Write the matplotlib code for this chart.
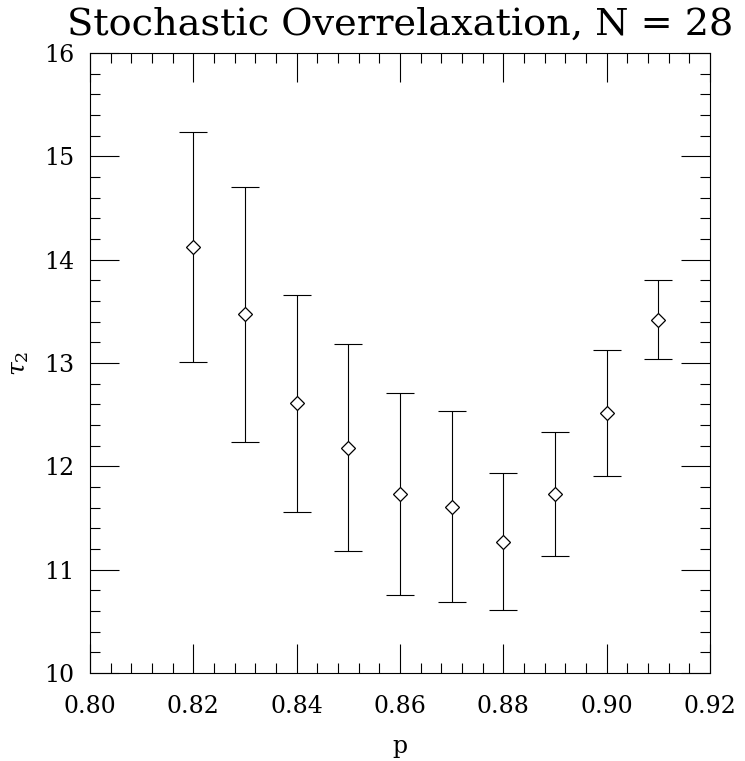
import numpy as np
import matplotlib.pyplot as plt
from matplotlib.ticker import MultipleLocator

# Autocorrelation time tau_2 versus overrelaxation parameter p
p = [0.82, 0.83, 0.84, 0.85, 0.86, 0.87, 0.88, 0.89, 0.90, 0.91]
tau2 = [14.12, 13.47, 12.61, 12.18, 11.73, 11.61, 11.27, 11.73, 12.52, 13.42]
tau2_err = [1.115, 1.23, 1.05, 1.00, 0.975, 0.925, 0.665, 0.60, 0.61, 0.385]
xticks = [0.80, 0.82, 0.84, 0.86, 0.88, 0.90, 0.92]

plt.rcParams['font.family'] = 'DejaVu Serif'
plt.rcParams['mathtext.fontset'] = 'dejavuserif'

fig = plt.figure(figsize=(7.45, 7.61), dpi=100)
ax = fig.add_axes([90 / 745, 1 - 673 / 761, 620 / 745, 620 / 761])

# error bars first, then open diamonds on top
ax.errorbar(p, tau2, yerr=tau2_err, fmt='none', ecolor='black',
            elinewidth=0.8, capsize=10.3, capthick=0.8, zorder=2)
ax.plot(p, tau2, linestyle='none', marker='D', markersize=7.4,
        markerfacecolor='white', markeredgecolor='black',
        markeredgewidth=0.9, zorder=3)

ax.set_xlim(0.80, 0.92)
ax.set_ylim(10, 16)
ax.set_xticks(xticks)
ax.set_xticklabels([f'{v:.2f}' for v in xticks])
ax.xaxis.set_minor_locator(MultipleLocator(0.004))
ax.yaxis.set_major_locator(MultipleLocator(1))
ax.yaxis.set_minor_locator(MultipleLocator(0.2))

ax.tick_params(which='both', direction='in', top=True, right=True,
               width=0.8, labelsize=17)
ax.tick_params(which='major', length=21)
ax.tick_params(which='minor', length=7.2)
ax.tick_params(axis='x', which='major', pad=16)
ax.tick_params(axis='y', which='major', pad=11)
for s in ax.spines.values():
    s.set_linewidth(0.8)

ax.set_xlabel('p', fontsize=17, labelpad=12)
ax.set_ylabel(r'$\tau_2$', fontsize=18, labelpad=10)
fig.text(400 / 745, 1 - 35 / 761, 'Stochastic Overrelaxation, N = 28',
         fontsize=27.5, ha='center', va='baseline')

fig.savefig('out.png', dpi=100)
